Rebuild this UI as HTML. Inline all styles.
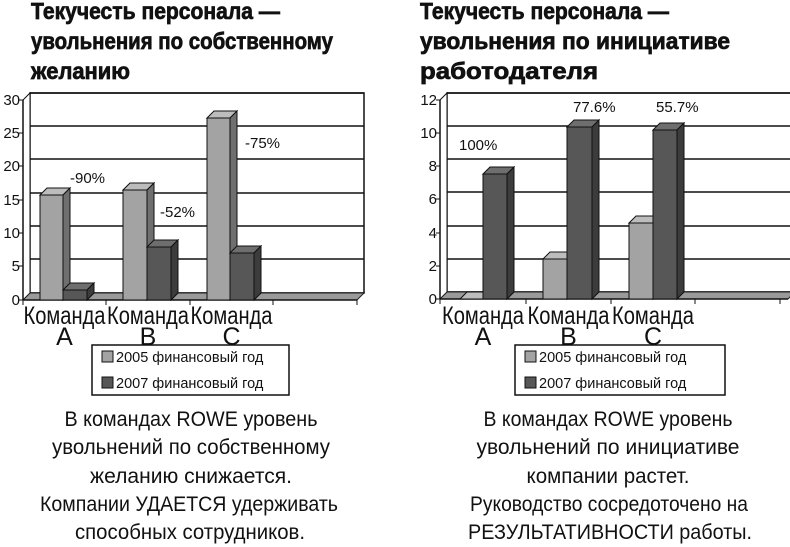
<!DOCTYPE html>
<html><head><meta charset="utf-8"><style>
html,body{margin:0;padding:0;background:#fff;}
svg{display:block}
text{font-family:"Liberation Sans Narrow","Liberation Sans",sans-serif;fill:#111}
.t{font-weight:bold;font-size:23px;stroke:#111;stroke-width:0.7}
.b{font-size:21px}
.ax{font-size:15px;font-family:"Liberation Sans",sans-serif}
.cat{font-size:25px}
.lg{font-size:14.5px;font-family:"Liberation Sans",sans-serif}
.pc{font-size:15px;font-family:"Liberation Sans",sans-serif}
</style></head><body>
<svg id="s" width="790" height="547" viewBox="0 0 790 547" xmlns="http://www.w3.org/2000/svg">
<g class="t">
<text x="31" y="19" textLength="249" lengthAdjust="spacingAndGlyphs">Текучесть персонала —</text>
<text x="31" y="49" textLength="302" lengthAdjust="spacingAndGlyphs">увольнения по собственному</text>
<text x="31" y="79" textLength="99" lengthAdjust="spacingAndGlyphs">желанию</text>
<text x="420" y="19" textLength="249" lengthAdjust="spacingAndGlyphs">Текучесть персонала —</text>
<text x="420" y="49" textLength="310" lengthAdjust="spacingAndGlyphs">увольнения по инициативе</text>
<text x="420" y="79" textLength="178" lengthAdjust="spacingAndGlyphs">работодателя</text>
</g>
<g id="charts"></g>
<g class="b" text-anchor="middle">
<text x="191" y="426" textLength="253" lengthAdjust="spacingAndGlyphs">В командах ROWE уровень</text>
<text x="191" y="454" textLength="278" lengthAdjust="spacingAndGlyphs">увольнений по собственному</text>
<text x="191" y="483" textLength="202" lengthAdjust="spacingAndGlyphs">желанию снижается.</text>
<text x="189" y="511" textLength="298" lengthAdjust="spacingAndGlyphs">Компании УДАЕТСЯ удерживать</text>
<text x="190" y="539" textLength="230" lengthAdjust="spacingAndGlyphs">способных сотрудников.</text>
<text x="608" y="426" textLength="249" lengthAdjust="spacingAndGlyphs">В командах ROWE уровень</text>
<text x="608" y="454" textLength="263" lengthAdjust="spacingAndGlyphs">увольнений по инициативе</text>
<text x="608" y="483" textLength="163" lengthAdjust="spacingAndGlyphs">компании растет.</text>
<text x="609" y="511" textLength="278" lengthAdjust="spacingAndGlyphs">Руководство сосредоточено на</text>
<text x="610" y="539" textLength="284" lengthAdjust="spacingAndGlyphs">РЕЗУЛЬТАТИВНОСТИ работы.</text>
</g>
</svg>
<script>
(function(){
var g=document.getElementById("charts"),h="";
function chart(o){
 var d=7,fx=o.fx,bx=fx+d,top=o.top,bf=o.bf,bb=bf-d,rx=o.rx;
 h+='<rect x="'+bx+'" y="'+top+'" width="'+(rx-bx)+'" height="'+(bb-top)+'" fill="#fff" stroke="#111" stroke-width="1.5"/>';
 o.grid.forEach(function(y){h+='<line x1="'+bx+'" y1="'+y+'" x2="'+rx+'" y2="'+y+'" stroke="#111" stroke-width="1.5"/>';});
 h+='<polygon points="'+fx+','+(top+d)+' '+bx+','+top+' '+bx+','+bb+' '+fx+','+bf+'" fill="#fff" stroke="#111" stroke-width="1"/>';
 h+='<polygon points="'+fx+','+bf+' '+bx+','+bb+' '+rx+','+bb+' '+(rx-d)+','+bf+'" fill="#9a9a9a" stroke="#222" stroke-width="1"/>';
 h+='<line x1="'+fx+'" y1="'+(top+d)+'" x2="'+fx+'" y2="'+bf+'" stroke="#111" stroke-width="1.5"/>';
 o.labels.forEach(function(l,i){var y=o.grid[i]+d;h+='<line x1="'+(fx-4)+'" y1="'+y+'" x2="'+fx+'" y2="'+y+'" stroke="#111"/><text class="ax" x="'+(fx-3)+'" y="'+(y+5)+'" text-anchor="end">'+l+'</text>';});
 h+='<line x1="'+fx+'" y1="'+bf+'" x2="'+(rx-d)+'" y2="'+bf+'" stroke="#111" stroke-width="1.5"/>';
 o.ticks.forEach(function(x){h+='<line x1="'+x+'" y1="'+bf+'" x2="'+x+'" y2="'+(bf+5)+'" stroke="#111"/>';});
 o.bars.forEach(function(b){
  var x=b[0],w=b[1],yt=b[2],c=b[3]?["#575757","#6e6e6e","#3c3c3c"]:["#a3a3a3","#bdbdbd","#6f6f6f"];
  h+='<polygon points="'+x+','+yt+' '+(x+d)+','+(yt-d)+' '+(x+w+d)+','+(yt-d)+' '+(x+w)+','+yt+'" fill="'+c[1]+'" stroke="#111" stroke-width="1"/>';
  h+='<polygon points="'+(x+w)+','+yt+' '+(x+w+d)+','+(yt-d)+' '+(x+w+d)+','+bb+' '+(x+w)+','+bf+'" fill="'+c[2]+'" stroke="#111" stroke-width="1"/>';
  h+='<rect x="'+x+'" y="'+yt+'" width="'+w+'" height="'+(bf-yt)+'" fill="'+c[0]+'" stroke="#111" stroke-width="1"/>';
 });
 o.pcs.forEach(function(p){h+='<text class="pc" x="'+p[0]+'" y="'+p[1]+'">'+p[2]+'</text>';});
 ["A","B","C"].forEach(function(L,i){var cx=(o.ticks[i]+o.ticks[i+1])/2;
  h+='<text class="cat" x="'+cx+'" y="324" text-anchor="middle" textLength="82" lengthAdjust="spacingAndGlyphs">Команда</text><text class="cat" x="'+cx+'" y="345" text-anchor="middle">'+L+'</text>';});
 var lx=o.lx,lw=o.lw;
 h+='<rect x="'+lx+'" y="345" width="'+lw+'" height="50" fill="#fff" stroke="#111" stroke-width="1.5"/>';
 h+='<rect x="'+(lx+10)+'" y="351" width="11" height="11" fill="#a3a3a3" stroke="#111"/><text class="lg" x="'+(lx+24)+'" y="362">2005 финансовый год</text>';
 h+='<rect x="'+(lx+10)+'" y="377" width="11" height="11" fill="#575757" stroke="#111"/><text class="lg" x="'+(lx+24)+'" y="388">2007 финансовый год</text>';
}
chart({fx:23,top:93,bf:300,rx:364,grid:[93,126,159,193,226,259,293],labels:["30","25","20","15","10","5","0"],
 ticks:[23,106,190,273,357],
 bars:[[40,23,195,0],[63,24,290,1],[123,24,190,0],[147,24,247,1],[207,23,118,0],[230,24,253,1]],
 pcs:[[70,183,"-90%"],[160,217,"-52%"],[245,148,"-75%"]],lx:92,lw:197});
chart({fx:440,top:93,bf:299,rx:795,grid:[93,126,159,192,226,259,292],labels:["12","10","8","6","4","2","0"],
 ticks:[440,526,611,695,780],
 bars:[[460,23,299,0],[483,24,174,1],[543,24,259,0],[567,25,127,1],[629,24,223,0],[653,24,130,1]],
 pcs:[[459,150,"100%"],[573,112,"77.6%"],[656,112,"55.7%"]],lx:515,lw:210});
g.innerHTML=h;
})();
</script>
</body></html>
